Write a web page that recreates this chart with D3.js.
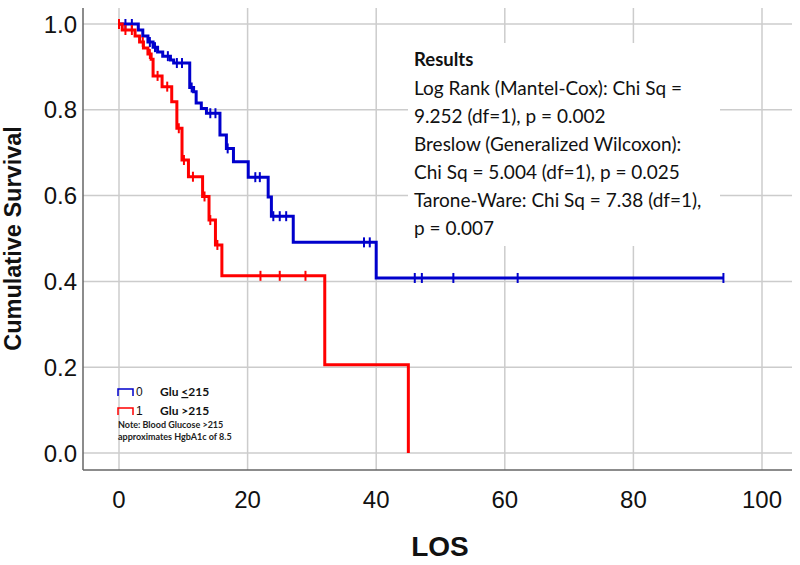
<!DOCTYPE html>
<html>
<head>
<meta charset="utf-8">
<script src="https://cdn.jsdelivr.net/npm/d3@7"></script>
<style>
  html, body { margin: 0; padding: 0; background: #fff; }
  svg { display: block; }
</style>
</head>
<body>
<svg id="chart" width="800" height="565"></svg>
<script>
// ---------------- DATA ----------------
const xTicks = [0, 20, 40, 60, 80, 100];
const yTicks = [0, 0.2, 0.4, 0.6, 0.8, 1.0];

// Group 0 (Glu <=215), blue: event times and survival after each event
const g0Times = [3, 3.7, 4.5, 5.3, 6, 6.8, 8, 8.5, 11, 11.6, 12, 12.8, 13.6, 15.7, 16.7, 17.8, 20.1, 23.2, 23.7, 27.1, 40];
const g0Surv  = [0.986, 0.972, 0.958, 0.946, 0.935, 0.925, 0.916, 0.909, 0.852, 0.842, 0.816, 0.803, 0.792, 0.741, 0.710, 0.679, 0.643, 0.597, 0.552, 0.491, 0.408];
const g0Censor = [1, 2, 4.8, 5.6, 7.6, 9, 9.8, 11.3, 14.2, 15, 16.9, 21.2, 21.9, 24, 25, 26, 38.1, 39, 46, 47.1, 52, 62, 94];
const g0End = 94;

// Group 1 (Glu >215), red
const g1Times = [0.5, 2.5, 3.2, 3.8, 4.5, 5.0, 5.3, 6.7, 8.2, 9.0, 9.8, 10.8, 13.0, 14.0, 15.0, 16.0, 32, 45];
const g1Surv  = [0.986, 0.972, 0.958, 0.944, 0.930, 0.918, 0.879, 0.854, 0.819, 0.757, 0.683, 0.644, 0.598, 0.543, 0.485, 0.413, 0.206, 0];
const g1Censor = [0, 1, 2, 3.7, 4.8, 6, 7.5, 9.3, 10.1, 11.5, 13.3, 14.2, 15.3, 22, 25, 29];
const g1End = 45;

const resultLines = [
  "Log Rank (Mantel-Cox): Chi Sq =",
  "9.252 (df=1), p = 0.002",
  "Breslow (Generalized Wilcoxon):",
  "Chi Sq = 5.004 (df=1), p = 0.025",
  "Tarone-Ware: Chi Sq = 7.38 (df=1),",
  "p = 0.007"
];

// ---------------- DRAW ----------------
const svg = d3.select("#chart");
const x = d3.scaleLinear().domain([0, 100]).range([119, 762]);
const y = d3.scaleLinear().domain([0, 1]).range([453, 24]);

const axisX = 83, axisY = 470, topY = 8, rightX = 792;
const gridColor = "#cccccc";
const sans = "'Liberation Sans', Arial, sans-serif";

// gridlines
svg.append("g").selectAll("line").data(xTicks).join("line")
  .attr("x1", d => x(d)).attr("x2", d => x(d))
  .attr("y1", topY).attr("y2", axisY)
  .attr("stroke", gridColor).attr("stroke-width", 1.5);
svg.append("g").selectAll("line").data(yTicks).join("line")
  .attr("x1", axisX).attr("x2", rightX)
  .attr("y1", d => y(d)).attr("y2", d => y(d))
  .attr("stroke", gridColor).attr("stroke-width", 1.5);

// axes lines
svg.append("line").attr("x1", axisX).attr("x2", axisX).attr("y1", topY).attr("y2", axisY)
  .attr("stroke", "#666").attr("stroke-width", 1.5);
svg.append("line").attr("x1", axisX).attr("x2", rightX).attr("y1", axisY).attr("y2", axisY)
  .attr("stroke", "#666").attr("stroke-width", 1.5);

// tick labels
svg.append("g").selectAll("text").data(yTicks).join("text")
  .attr("x", 77).attr("y", d => y(d)).attr("dy", "0.36em")
  .attr("text-anchor", "end")
  .attr("font-family", sans).attr("font-size", 24)
  .attr("fill", "#111")
  .text(d => d3.format(".1f")(d));
svg.append("g").selectAll("text").data(xTicks).join("text")
  .attr("x", d => x(d)).attr("y", 499).attr("dy", "0.36em")
  .attr("text-anchor", "middle")
  .attr("font-family", sans).attr("font-size", 24)
  .attr("fill", "#111")
  .text(d => d);

// axis titles
svg.append("text")
  .attr("transform", `translate(21, ${y(0.5)}) rotate(-90)`)
  .attr("text-anchor", "middle")
  .attr("font-family", sans).attr("font-weight", "bold")
  .attr("font-size", 23.5).attr("fill", "#111")
  .text("Cumulative Survival");
svg.append("text")
  .attr("x", 440).attr("y", 556)
  .attr("text-anchor", "middle")
  .attr("font-family", sans).attr("font-weight", "bold")
  .attr("font-size", 28).attr("fill", "#111")
  .text("LOS");

// results box (white background hides gridlines)
svg.append("rect").attr("x", 408).attr("y", 43).attr("width", 312).attr("height", 203).attr("fill", "#fff");
const txt = svg.append("g").attr("font-family", "Lato, Carlito, sans-serif").attr("fill", "#111");
txt.append("text").attr("x", 414).attr("y", 66).attr("font-weight", "bold").attr("font-size", 18.5).text("Results");
txt.selectAll("text.r").data(resultLines).join("text")
  .attr("class", "r")
  .attr("x", 414).attr("y", (d, i) => 95 + i * 28)
  .attr("font-size", 19)
  .text(d => d);

// KM curves
function stepPoints(times, surv, end) {
  const pts = [[0, 1]];
  let prev = 1;
  times.forEach((t, i) => {
    pts.push([t, prev]);
    pts.push([t, surv[i]]);
    prev = surv[i];
  });
  const last = times[times.length - 1];
  if (end > last) pts.push([end, prev]);
  return pts;
}
function survAt(times, surv, t) {
  let s = 1;
  times.forEach((tt, i) => { if (tt <= t) s = surv[i]; });
  return s;
}
const line = d3.line().x(d => x(d[0])).y(d => y(d[1]));

const groups = [
  { times: g0Times, surv: g0Surv, censor: g0Censor, end: g0End, color: "#0000cc" },
  { times: g1Times, surv: g1Surv, censor: g1Censor, end: g1End, color: "#ff0000" }
];
groups.forEach(g => {
  svg.append("path")
    .attr("d", line(stepPoints(g.times, g.surv, g.end)))
    .attr("fill", "none").attr("stroke", g.color).attr("stroke-width", 3)
    .attr("stroke-linejoin", "miter");
  svg.append("g").selectAll("line").data(g.censor).join("line")
    .attr("x1", d => x(d)).attr("x2", d => x(d))
    .attr("y1", d => y(survAt(g.times, g.surv, d)) - 5)
    .attr("y2", d => y(survAt(g.times, g.surv, d)) + 5)
    .attr("stroke", g.color).attr("stroke-width", 2);
});

// legend
const legend = [
  { key: "0", label: "Glu ", rel: "<", num: "215", color: "#0000cc", underline: true },
  { key: "1", label: "Glu ", rel: ">", num: "215", color: "#ff0000", underline: false }
];
const lg = svg.append("g");
legend.forEach((d, i) => {
  const ly = 392 + i * 19;
  lg.append("path")
    .attr("d", `M118,${ly + 4} L118,${ly - 3} L133,${ly - 3} L133,${ly + 4}`)
    .attr("fill", "none").attr("stroke", d.color).attr("stroke-width", 1.5);
  lg.append("text").attr("x", 136).attr("y", ly + 4)
    .attr("font-family", sans).attr("font-size", 12).attr("fill", "#111")
    .text(d.key);
  const t = lg.append("text").attr("x", 160).attr("y", ly + 4)
    .attr("font-family", "Lato, Carlito, sans-serif").attr("font-weight", "bold")
    .attr("font-size", 12).attr("fill", "#111");
  t.append("tspan").text(d.label);
  t.append("tspan").attr("text-decoration", d.underline ? "underline" : null).text(d.rel);
  t.append("tspan").text(d.num);
});
lg.append("text").attr("x", 118).attr("y", 428)
  .attr("font-family", "Lato, Carlito, sans-serif").attr("font-weight", "bold")
  .attr("font-size", 9).attr("fill", "#222")
  .text("Note: Blood Glucose >215");
lg.append("text").attr("x", 118).attr("y", 440)
  .attr("font-family", "Lato, Carlito, sans-serif").attr("font-weight", "bold")
  .attr("font-size", 9).attr("fill", "#222")
  .text("approximates HgbA1c of 8.5");
</script>
</body>
</html>
